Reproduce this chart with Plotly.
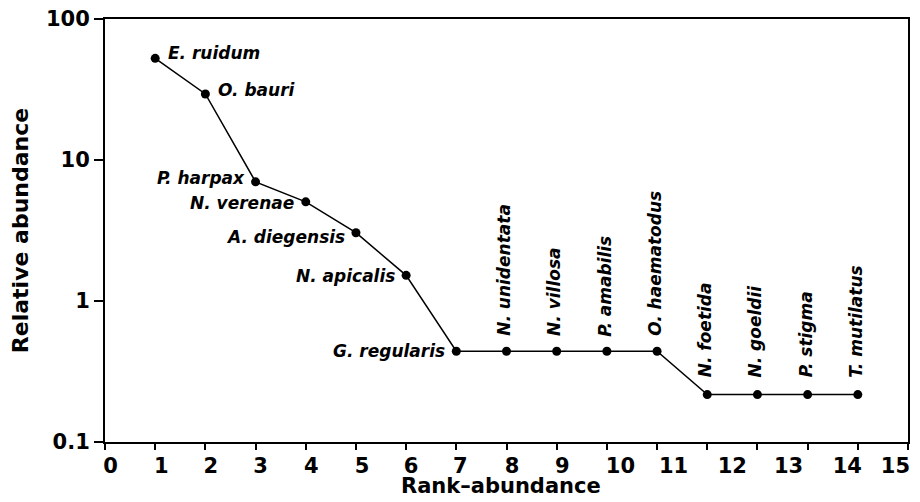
import plotly.graph_objects as go
import math

# ---- data ----
species = ["E. ruidum", "O. bauri", "P. harpax", "N. verenae", "A. diegensis",
           "N. apicalis", "G. regularis", "N. unidentata", "N. villosa",
           "P. amabilis", "O. haematodus", "N. foetida", "N. goeldii",
           "P. stigma", "T. mutilatus"]
rank = [1, 2, 3, 4, 5, 6, 7, 8, 9, 10, 11, 12, 13, 14, 15]
abundance = [52.6, 29.4, 7.0, 5.05, 3.05, 1.52, 0.44, 0.44, 0.44, 0.44, 0.44,
             0.217, 0.217, 0.217, 0.217]
rank_tick_labels = ["0", "1", "2", "3", "4", "5", "6", "7", "8", "9", "10",
                    "11", "12", "13", "14", "15"]
y_tick_vals = [0.1, 1, 10, 100]
y_tick_labels = ["0.1", "1", "10", "100"]
x_title = "Rank–abundance"
y_title = "Relative abundance"

# ---- layout helpers (positions / styles) ----
rank_label_pos = [0.11, 1.12, 2.11, 3.1, 4.11, 5.12, 6.1, 7.08, 8.11, 9.11,
                  10.27, 11.33, 12.5, 13.62, 14.79, 15.75]
# label placement per species: (mode, xshift, yshift)
label_place = [("r", 11, 5), ("r", 11, 4), ("l", -9, 4), ("l", -10, -1),
               ("l", -9, -4), ("l", -9, -1), ("l", -9, 0),
               ("v", -2, 13), ("v", -2, 13), ("v", -2, 13), ("v", -2, 13),
               ("v", -2, 15), ("v", -2, 15), ("v", -2, 15), ("v", -2, 15)]

FONT = "DejaVu Sans"

fig = go.Figure()
fig.add_trace(go.Scatter(
    x=rank, y=abundance, mode="lines+markers",
    line=dict(color="black", width=1.5),
    marker=dict(color="black", size=9),
    showlegend=False, hoverinfo="skip", cliponaxis=False))

annotations = []
for name, xr, yv, (mode, xs, ys) in zip(species, rank, abundance, label_place):
    a = dict(x=xr, y=math.log10(yv), xref="x", yref="y", text=name,
             showarrow=False, xshift=xs, yshift=ys,
             font=dict(family=FONT, size=17, color="black", weight="bold",
                       style="italic"))
    if mode == "r":
        a.update(xanchor="left", yanchor="middle")
    elif mode == "l":
        a.update(xanchor="right", yanchor="middle")
    else:
        a.update(xanchor="center", yanchor="bottom", textangle=-90)
    annotations.append(a)

# x-axis title as a paper-anchored annotation
annotations.append(dict(
    x=0.493, y=0, xref="paper", yref="paper", text=x_title,
    showarrow=False, xanchor="center", yanchor="middle", yshift=-44,
    font=dict(family=FONT, size=21, color="black", weight="bold")))

# page body adds an 8px margin on every side; size the figure so the page
# fits the 920x502 window without scrollbars
fig.update_layout(
    width=904, height=486,
    margin=dict(l=97, r=4, t=11, b=52, autoexpand=False),
    paper_bgcolor="white", plot_bgcolor="white",
    annotations=annotations,
    xaxis=dict(
        range=[0, 16], showgrid=False, zeroline=False, automargin=False,
        showline=True, linecolor="black", linewidth=2, mirror=True,
        tickmode="array", tickvals=rank_label_pos, ticktext=rank_tick_labels,
        ticks="", ticklabelstandoff=4, ticklabeloverflow="allow",
        tickfont=dict(family=FONT, size=21, color="black", weight="bold"),
        minor=dict(tickmode="array", tickvals=list(range(0, 17)),
                   ticks="outside", ticklen=6, tickwidth=2, tickcolor="black"),
    ),
    yaxis=dict(
        type="log", range=[-1, 2], showgrid=False, zeroline=False, automargin=False,
        showline=True, linecolor="black", linewidth=2, mirror=True,
        tickmode="array", tickvals=y_tick_vals, ticktext=y_tick_labels,
        ticks="outside", ticklen=9, tickwidth=2, tickcolor="black",
        ticklabeloverflow="allow",
        tickfont=dict(family=FONT, size=21, color="black", weight="bold"),
        title=dict(text=y_title, standoff=14,
                   font=dict(family=FONT, size=22, color="black", weight="bold")),
    ),
)

fig.write_html("out.html")
